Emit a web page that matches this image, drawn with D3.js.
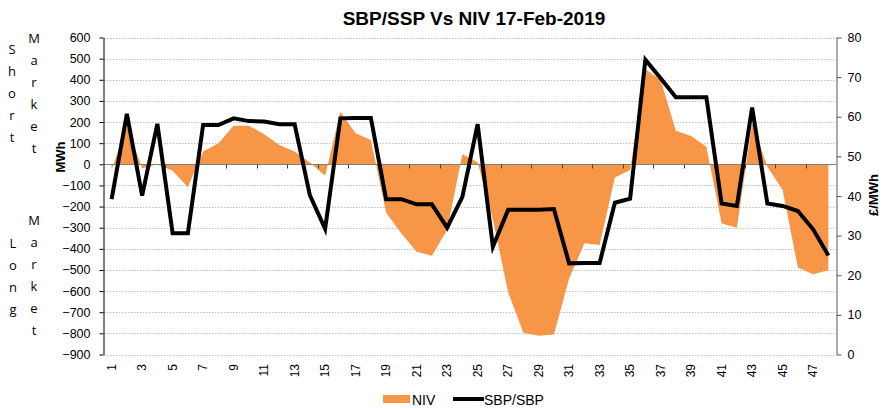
<!DOCTYPE html>
<html>
<head>
<meta charset="utf-8">
<script src="https://cdn.jsdelivr.net/npm/d3@7"></script>
<style>
  body { margin: 0; background: #fff; }
  text { font-family: "Liberation Sans", Arial, sans-serif; }
  .grid line { stroke: #bfbfbf; stroke-dasharray: 1.5 1.5; }
</style>
</head>
<body>
<div id="js_chart"></div>
<script>
// Settlement periods 1..48
var periods = d3.range(1, 49);

// NIV, MWh (left axis)
var niv = [
  -25, 180, -19, 0, -30, -109, 60, 100, 183, 183, 142, 91,
  60, 9, -54, 249, 147, 115, -229, -327, -414, -433, -311, 47,
  10, -260, -605, -797, -811, -805, -540, -374, -382, -63, -27, 450,
  399, 159, 134, 83, -280, -300, 195, -11, -122, -488, -520, -501
];

// SBP/SSP, GBP/MWh (right axis)
var sbp = [
  39.2, 60.7, 40.1, 58.2, 30.6, 30.6, 57.9, 57.9, 59.6, 58.9, 58.8, 58.1,
  58.1, 40.2, 31.7, 59.6, 59.7, 59.7, 39.2, 39.2, 37.9, 37.9, 32.0, 39.8,
  58.1, 27.2, 36.5, 36.5, 36.5, 36.7, 23.0, 23.1, 23.1, 38.3, 39.3, 74.4,
  69.7, 64.9, 64.9, 64.9, 38.1, 37.5, 62.3, 38.1, 37.5, 36.2, 31.6, 25.0
];

var leftTicks = d3.range(-900, 601, 100);
var rightTicks = d3.range(0, 81, 10);

var W = 883, H = 409;
var pLeft = 104, pRight = 836, pTop = 37.5, pBottom = 354.5;

var svg = d3.select("#js_chart").append("svg")
  .attr("width", W)
  .attr("height", H);

var x = d3.scaleBand().domain(periods).range([pLeft, pRight]);
var yL = d3.scaleLinear().domain([-900, 600]).range([pBottom, pTop]);
var yR = d3.scaleLinear().domain([0, 80]).range([pBottom, pTop]);

// gridlines
svg.append("g").attr("class", "grid")
  .selectAll("line").data(leftTicks).enter().append("line")
  .attr("x1", pLeft).attr("x2", pRight)
  .attr("y1", function (d) { return Math.round(yL(d)) + 0.5; })
  .attr("y2", function (d) { return Math.round(yL(d)) + 0.5; });

// NIV area
var cx = function (d, i) { return x(periods[i]) + x.bandwidth() / 2; };
svg.append("path")
  .datum(niv)
  .attr("fill", "#f79646")
  .attr("d", d3.area().x(cx).y0(yL(0)).y1(function (d) { return yL(d); }));

// zero line with category ticks
var y0 = Math.round(yL(0)) + 0.5;
svg.append("line")
  .attr("x1", pLeft).attr("x2", pRight)
  .attr("y1", y0).attr("y2", y0)
  .attr("stroke", "#808080").attr("stroke-width", 1);

periods.forEach(function (p, i) {
  if (i > 0 && i % 2 === 0) {
    var tx = Math.round(x(p)) + 0.5;
    svg.append("line")
      .attr("x1", tx).attr("x2", tx)
      .attr("y1", y0).attr("y2", y0 + 4)
      .attr("stroke", "#404040");
  }
});

// SBP line
svg.append("path")
  .datum(sbp)
  .attr("fill", "none")
  .attr("stroke", "#000")
  .attr("stroke-width", 4)
  .attr("stroke-linejoin", "miter")
  .attr("d", d3.line().x(cx).y(function (d) { return yR(d); }));

// left axis
var gL = svg.append("g")
  .attr("transform", "translate(" + (pLeft - 0.5) + ",0)")
  .call(d3.axisLeft(yL).tickValues(leftTicks).tickSize(4).tickSizeOuter(0).tickPadding(9));
gL.select(".domain").attr("stroke", "#000");
gL.selectAll(".tick line").attr("stroke", "#000");
gL.selectAll("text").attr("font-size", 12.5).attr("fill", "#000")
  .style("font-family", "Liberation Sans, Arial, sans-serif");

// right axis
var gR = svg.append("g")
  .attr("transform", "translate(" + (pRight + 0.5) + ",0)")
  .call(d3.axisRight(yR).tickValues(rightTicks).tickSize(5).tickSizeOuter(0).tickPadding(6));
gR.select(".domain").attr("stroke", "#595959");
gR.selectAll(".tick line").attr("stroke", "#595959");
gR.selectAll("text").attr("font-size", 12.5).attr("fill", "#000")
  .style("font-family", "Liberation Sans, Arial, sans-serif");

// category labels (odd periods)
periods.forEach(function (p, i) {
  if (i % 2 === 0) {
    var lx = x(p) + x.bandwidth() / 2 + 4;
    svg.append("text")
      .attr("transform", "translate(" + lx + ",364) rotate(-90)")
      .attr("text-anchor", "end")
      .attr("font-size", 12)
      .text(p);
  }
});

// title
svg.append("text")
  .attr("x", 474).attr("y", 25)
  .attr("text-anchor", "middle")
  .attr("font-size", 19).attr("font-weight", "bold")
  .text("SBP/SSP Vs NIV 17-Feb-2019");

// axis titles
svg.append("text")
  .attr("transform", "translate(65,157) rotate(-90)")
  .attr("text-anchor", "middle")
  .attr("font-size", 13).attr("font-weight", "bold")
  .text("MWh");

svg.append("text")
  .attr("transform", "translate(878,195) rotate(-90)")
  .attr("text-anchor", "middle")
  .attr("font-size", 13).attr("font-weight", "bold")
  .text("£/MWh");

// Short / Long Market side notes, one letter per row
function stacked(word, xx, yStart) {
  word.split("").forEach(function (ch, k) {
    svg.append("text")
      .attr("x", xx).attr("y", yStart + k * 22)
      .attr("text-anchor", "middle")
      .attr("font-size", 13)
      .style("font-family", "Open Sans, sans-serif")
      .text(ch);
  });
}
stacked("Short", 12, 54);
stacked("Market", 34, 43);
stacked("Long", 13, 248);
stacked("Market", 34, 225);

// legend
svg.append("rect")
  .attr("x", 383).attr("y", 395).attr("width", 27).attr("height", 8)
  .attr("fill", "#f79646");
svg.append("text")
  .attr("x", 412).attr("y", 405)
  .attr("font-size", 14)
  .text("NIV");
svg.append("line")
  .attr("x1", 453).attr("x2", 484).attr("y1", 399).attr("y2", 399)
  .attr("stroke", "#000").attr("stroke-width", 4);
svg.append("text")
  .attr("x", 484).attr("y", 405)
  .attr("font-size", 14)
  .text("SBP/SBP");
</script>
</body>
</html>
